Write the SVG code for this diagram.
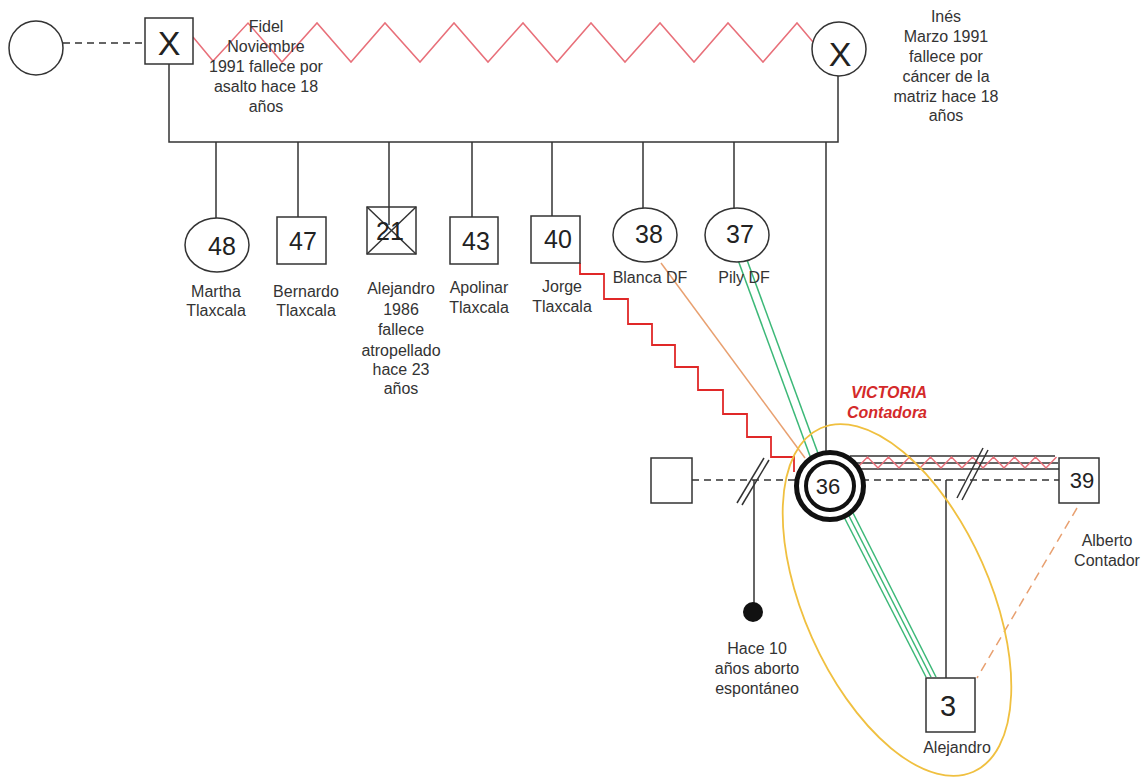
<svg xmlns="http://www.w3.org/2000/svg" width="1148" height="778" viewBox="0 0 1148 778">
<style>
.ln{stroke:#333;stroke-width:1.5;fill:none}
.dash{stroke:#333;stroke-width:1.5;stroke-dasharray:7 5;fill:none}
.nd{fill:#fff;stroke:#333;stroke-width:1.5}
.t{font-family:"Liberation Sans",Arial,sans-serif;font-size:16px;fill:#333;text-anchor:middle}
.n{font-family:"Liberation Sans",Arial,sans-serif;font-size:25px;fill:#222;text-anchor:middle}
.zz{stroke:#e8707a;stroke-width:1.5;fill:none;stroke-linejoin:miter}
.red{stroke:#e02828;stroke-width:1.8;fill:none}
.grn{stroke:#3cb878;stroke-width:1.5;fill:none}
.org{stroke:#e8a070;stroke-width:1.5;fill:none}
</style>
<rect width="1148" height="778" fill="#fff"/>
<g id="connectors">
  <line class="dash" x1="63" y1="43" x2="145" y2="43"/>
  <polyline class="zz" points="193,37 213,61 248,23 282,62 317,23 351,62 385,23 420,62 454,23 488,62 523,23 557,62 591,23 625,62 660,23 694,62 728,23 763,62 797,23 813,42"/>
  <path class="ln" d="M169,64 V142 H838 V76"/>
  <line class="ln" x1="216" y1="142" x2="216" y2="218"/>
  <line class="ln" x1="298" y1="142" x2="298" y2="217"/>
  <line class="ln" x1="389" y1="142" x2="389" y2="225"/>
  <line class="ln" x1="472" y1="142" x2="472" y2="217"/>
  <line class="ln" x1="552" y1="142" x2="552" y2="216"/>
  <line class="ln" x1="643" y1="142" x2="643" y2="208"/>
  <line class="ln" x1="734" y1="142" x2="734" y2="208"/>
  <line class="ln" x1="826" y1="142" x2="826" y2="452"/>
  <path class="red" d="M580,263 V274 H604 V299 H628 V324 H652 V345 H675 V367 H698 V390 H723 V414 H747 V437 H771 V457 H794 V472"/>
  <line class="org" x1="661" y1="263" x2="805" y2="458"/>
  <line class="grn" x1="738" y1="260" x2="810" y2="456"/>
  <line class="grn" x1="747" y1="260" x2="819" y2="456"/>
  <line class="dash" x1="692" y1="480" x2="800" y2="480"/>
  <line class="ln" x1="737" y1="503" x2="764" y2="458"/>
  <line class="ln" x1="742" y1="505" x2="769" y2="460"/>
  <line class="ln" x1="754" y1="480" x2="754" y2="605"/>
  <line class="ln" x1="850" y1="456" x2="1055" y2="456"/>
  <line class="ln" x1="855" y1="463" x2="1058" y2="463"/>
  <line class="ln" x1="858" y1="469" x2="1059" y2="469"/>
  <polyline class="zz" points="857,468 867.5,457 878,468 888.5,457 899,468 909.5,457 920,468 930.5,457 941,468 951.5,457 962,468 972.5,457 983,468 993.5,457 1004,468 1014.5,457 1025,468 1035.5,457 1046,468 1056.5,457"/>
  <line class="dash" x1="862" y1="480" x2="1059" y2="480"/>
  <line class="ln" x1="957" y1="498" x2="983" y2="448"/>
  <line class="ln" x1="962" y1="500" x2="988" y2="450"/>
  <line class="ln" x1="946" y1="480" x2="946" y2="678"/>
  <line class="grn" x1="843" y1="515" x2="926" y2="677"/>
  <line class="grn" x1="848" y1="514" x2="931" y2="677"/>
  <line class="grn" x1="853" y1="513" x2="936" y2="677"/>
  <line class="org" stroke-dasharray="9 6" x1="1077" y1="508" x2="977" y2="678"/>
</g>
<g id="focus-ellipse">
  <ellipse cx="897" cy="600" rx="93" ry="188" transform="rotate(-24 897 600)" fill="none" stroke="#f0c040" stroke-width="1.8"/>
</g>
<g id="node-partner-fidel">
  <circle class="nd" cx="36" cy="48" r="27"/>
</g>
<g id="node-fidel">
  <rect class="nd" x="145" y="18" width="48" height="46"/>
  <text class="n" x="169" y="55" font-size="34" style="font-size:34px">X</text>
  <text class="t"><tspan x="266" y="32">Fidel</tspan><tspan x="266" y="52">Noviembre</tspan><tspan x="266" y="72">1991 fallece por</tspan><tspan x="266" y="92">asalto  hace 18</tspan><tspan x="266" y="112">años</tspan></text>
</g>
<g id="node-ines">
  <circle class="nd" cx="839" cy="49" r="27"/>
  <text class="n" x="840" y="66" style="font-size:34px">X</text>
  <text class="t"><tspan x="946" y="22">Inés</tspan><tspan x="946" y="42">Marzo 1991</tspan><tspan x="946" y="62">fallece por</tspan><tspan x="946" y="82">cáncer de la</tspan><tspan x="946" y="102">matriz hace 18</tspan><tspan x="946" y="121">años</tspan></text>
</g>
<g id="node-martha">
  <ellipse class="nd" cx="217" cy="245" rx="32" ry="27"/>
  <text class="n" x="222" y="255">48</text>
  <text class="t"><tspan x="216" y="297">Martha</tspan><tspan x="216" y="316">Tlaxcala</tspan></text>
</g>
<g id="node-bernardo">
  <rect class="nd" x="277" y="217" width="49" height="47"/>
  <text class="n" x="303" y="250">47</text>
  <text class="t"><tspan x="306" y="297">Bernardo</tspan><tspan x="306" y="316">Tlaxcala</tspan></text>
</g>
<g id="node-alejandro-tio">
  <rect class="nd" x="367" y="207" width="49" height="47" fill="none" style="fill:none"/>
  <line class="ln" x1="367" y1="207" x2="416" y2="254"/>
  <line class="ln" x1="416" y1="207" x2="367" y2="254"/>
  <text class="n" x="390" y="240">21</text>
  <text class="t"><tspan x="401" y="294">Alejandro</tspan><tspan x="401" y="315">1986</tspan><tspan x="401" y="335">fallece</tspan><tspan x="401" y="356">atropellado</tspan><tspan x="401" y="375">hace 23</tspan><tspan x="401" y="394">años</tspan></text>
</g>
<g id="node-apolinar">
  <rect class="nd" x="450" y="217" width="48" height="47"/>
  <text class="n" x="476" y="250">43</text>
  <text class="t"><tspan x="479" y="293">Apolinar</tspan><tspan x="479" y="313">Tlaxcala</tspan></text>
</g>
<g id="node-jorge">
  <rect class="nd" x="531" y="216" width="49" height="47"/>
  <text class="n" x="558" y="248">40</text>
  <text class="t"><tspan x="562" y="292">Jorge</tspan><tspan x="562" y="312">Tlaxcala</tspan></text>
</g>
<g id="node-blanca">
  <ellipse class="nd" cx="645" cy="235" rx="32" ry="27"/>
  <text class="n" x="649" y="243">38</text>
  <text class="t" x="650" y="283">Blanca DF</text>
</g>
<g id="node-pily">
  <ellipse class="nd" cx="737" cy="235" rx="32" ry="27"/>
  <text class="n" x="740" y="243">37</text>
  <text class="t" x="744" y="283">Pily DF</text>
</g>
<g id="node-expartner">
  <rect class="nd" x="651" y="458" width="41" height="45"/>
</g>
<g id="node-aborto">
  <circle cx="753" cy="612" r="10" fill="#111"/>
  <text class="t"><tspan x="757" y="654">Hace 10</tspan><tspan x="757" y="674">años aborto</tspan><tspan x="757" y="694">espontáneo</tspan></text>
</g>
<g id="node-victoria">
  <circle cx="830" cy="486" r="33.5" fill="#fff" stroke="#111" stroke-width="5"/>
  <circle cx="830" cy="486" r="24" fill="none" stroke="#111" stroke-width="4"/>
  <text class="n" x="828" y="494" style="font-size:22px">36</text>
  <text x="889" y="398" font-family="Liberation Sans, Arial, sans-serif" font-size="16" font-weight="bold" font-style="italic" fill="#d42a2a" text-anchor="middle">VICTORIA</text>
  <text x="887" y="418" font-family="Liberation Sans, Arial, sans-serif" font-size="16" font-weight="bold" font-style="italic" fill="#d42a2a" text-anchor="middle">Contadora</text>
</g>
<g id="node-alberto">
  <rect class="nd" x="1059" y="458" width="40" height="45"/>
  <text class="n" x="1082" y="488" style="font-size:22px">39</text>
  <text class="t"><tspan x="1107" y="546">Alberto</tspan><tspan x="1107" y="566">Contador</tspan></text>
</g>
<g id="node-alejandro-hijo">
  <rect class="nd" x="926" y="678" width="49" height="54"/>
  <text class="n" x="948" y="716" style="font-size:29px">3</text>
  <text class="t" x="957" y="753">Alejandro</text>
</g>
</svg>
